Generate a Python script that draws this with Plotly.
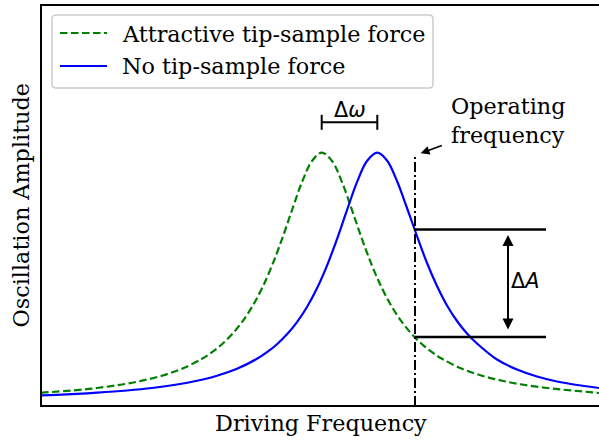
import plotly.graph_objects as go

# ---- data (arbitrary units) ----
freq_attr = [0, 31, 56, 81, 101, 121, 141, 161, 171, 181, 191, 201, 211, 221, 231,
             241, 251, 261, 271, 280.7, 291, 301, 311, 321, 331, 341, 351, 361, 371,
             381, 391, 401, 421, 441, 461, 481, 506, 531, 558]
amp_attr = [13.3, 15.5, 18.0, 21.5, 25.3, 30.3, 37.3, 47.2, 53.8, 61.8, 71.7, 83.9, 99.0, 117.7, 140.4,
            166.9, 195.9, 223.9, 245.0, 253.3, 245.0, 223.9, 195.9, 166.9, 140.4, 117.7, 99.0, 83.9, 71.7,
            61.8, 53.8, 47.2, 37.3, 30.3, 25.3, 21.5, 18.0, 15.5, 13.0]

freq_free = [0, 26, 56, 86, 111, 136, 156, 176, 196, 216, 226, 236, 246, 256, 266,
             276, 286, 296, 306, 316, 326, 336.3, 346, 356, 366, 376, 386, 396, 406,
             416, 426, 436, 456, 476, 496, 516, 536, 558]
amp_free = [10.5, 11.6, 13.3, 15.5, 18.0, 21.5, 25.3, 30.3, 37.3, 47.2, 53.8, 61.8, 71.7, 83.9, 99.0,
            117.7, 140.4, 166.9, 195.9, 223.9, 245.0, 253.3, 245.5, 225.0, 198.0, 170.0, 143.0, 120.0, 100.5,
            85.0, 72.5, 62.5, 46.5, 36.5, 29.5, 24.5, 21.0, 18.0]

op_freq = 374
amp_free_op = 176.5
amp_attr_op = 69

series_names = ["Attractive tip-sample force", "No tip-sample force"]
op_label = "Operating<br>frequency"
x_title = "Driving Frequency"
y_title = "Oscillation Amplitude"

SERIF = "DejaVu Serif"
SANS = "DejaVu Sans"
FS = 22.3
FM = 20.8
GREEN = "#008000"
BLUE = "#0000ff"
DASH = "7.5px,3.5px"

peak_attr = freq_attr[amp_attr.index(max(amp_attr))]
peak_free = freq_free[amp_free.index(max(amp_free))]

fig = go.Figure()
fig.add_trace(go.Scatter(x=freq_attr, y=amp_attr, mode="lines",
                         line=dict(color=GREEN, width=2.2, dash=DASH, shape="spline", smoothing=1),
                         showlegend=False, hoverinfo="skip"))
fig.add_trace(go.Scatter(x=freq_free, y=amp_free, mode="lines",
                         line=dict(color=BLUE, width=2.2, shape="spline", smoothing=1),
                         showlegend=False, hoverinfo="skip"))

shapes = []
# operating frequency line
shapes.append(dict(type="line", xref="x", yref="y", x0=op_freq, x1=op_freq, y0=0, y1=251,
                   line=dict(color="black", width=2, dash="10px,3px,2px,3px")))
# amplitude levels
for a in (amp_free_op, amp_attr_op):
    shapes.append(dict(type="line", xref="x", yref="y", x0=op_freq, x1=505, y0=a, y1=a,
                       line=dict(color="black", width=2.5)))
# delta omega bracket
by = 283.7
shapes.append(dict(type="line", xref="x", yref="y", x0=peak_attr, x1=peak_free, y0=by, y1=by,
                   line=dict(color="black", width=2)))
for px in (peak_attr, peak_free):
    shapes.append(dict(type="line", xref="x", yref="y", x0=px, x1=px, y0=by - 7.5, y1=by + 7.5,
                       line=dict(color="black", width=2)))
# legend box
lx0, lx1, ly0, ly1, r = 11, 392, 318, 391, 4
shapes.append(dict(type="path", xref="x", yref="y",
                   path=(f"M{lx0+r},{ly0} L{lx1-r},{ly0} Q{lx1},{ly0} {lx1},{ly0+r} "
                         f"L{lx1},{ly1-r} Q{lx1},{ly1} {lx1-r},{ly1} L{lx0+r},{ly1} "
                         f"Q{lx0},{ly1} {lx0},{ly1-r} L{lx0},{ly0+r} Q{lx0},{ly0} {lx0+r},{ly0} Z"),
                   line=dict(color="#cccccc", width=1.5), fillcolor="rgba(255,255,255,0.8)", layer="above"))
shapes.append(dict(type="line", xref="x", yref="y", x0=19, x1=66, y0=373, y1=373,
                   line=dict(color=GREEN, width=2.2, dash=DASH), layer="above"))
shapes.append(dict(type="line", xref="x", yref="y", x0=19, x1=66, y0=340, y1=340,
                   line=dict(color=BLUE, width=2.2), layer="above"))

ann = []
for name, yy in zip(series_names, (372, 340)):
    ann.append(dict(xref="x", yref="y", x=79, y=yy, text=name, showarrow=False,
                    xanchor="left", yanchor="middle", font=dict(family=SERIF, size=FS, color="black")))
# delta omega label
ann.append(dict(xref="x", yref="y", x=(peak_attr + peak_free) / 2, y=296, text="Δ<i>ω</i>",
                showarrow=False, xanchor="center", yanchor="middle",
                font=dict(family=SANS, size=FM, color="black")))
# delta A label
ann.append(dict(xref="x", yref="y", x=467.5, y=125, text="Δ<i>A</i>", showarrow=False,
                xanchor="left", yanchor="middle", font=dict(family=SANS, size=FM, color="black")))
# double arrow
ann.append(dict(xref="x", yref="y", axref="x", ayref="y", x=467, y=171, ax=467, ay=75, text="",
                showarrow=True, arrowhead=2, startarrowhead=2, arrowside="end+start",
                arrowsize=1.1, startarrowsize=1.1, arrowwidth=2, arrowcolor="black",
                standoff=0, startstandoff=0))
# operating frequency annotation
ann.append(dict(xref="x", yref="y", x=408, y=285.5, text=op_label, showarrow=False,
                xanchor="left", yanchor="middle", align="left",
                font=dict(family=SERIF, size=FS, color="black")))
ann.append(dict(xref="x", yref="y", axref="x", ayref="y", x=379.7, y=252.7, ax=402.3, ay=261, text="",
                showarrow=True, arrowhead=2, arrowsize=1.1, arrowwidth=1.6, arrowcolor="black", standoff=0))
# axis titles
ann.append(dict(xref="paper", yref="paper", x=0.5, y=0, yshift=-18, text=x_title, showarrow=False,
                xanchor="center", yanchor="middle", font=dict(family=SERIF, size=FS, color="black")))
ann.append(dict(xref="paper", yref="paper", x=0, y=0.5, xshift=-22, text=y_title, showarrow=False,
                textangle=-90, xanchor="center", yanchor="middle",
                font=dict(family=SERIF, size=FS, color="black")))

fig.update_layout(
    width=599, height=442,
    margin=dict(l=42, r=0, t=6, b=37),
    paper_bgcolor="white", plot_bgcolor="white",
    shapes=shapes, annotations=ann, showlegend=False,
    xaxis=dict(range=[1, 558], showgrid=False, zeroline=False, showticklabels=False, ticks="",
               showline=True, linecolor="black", linewidth=2, mirror=True),
    yaxis=dict(range=[1, 400], showgrid=False, zeroline=False, showticklabels=False, ticks="",
               showline=True, linecolor="black", linewidth=2, mirror=False),
)
fig.write_html("out.html")
